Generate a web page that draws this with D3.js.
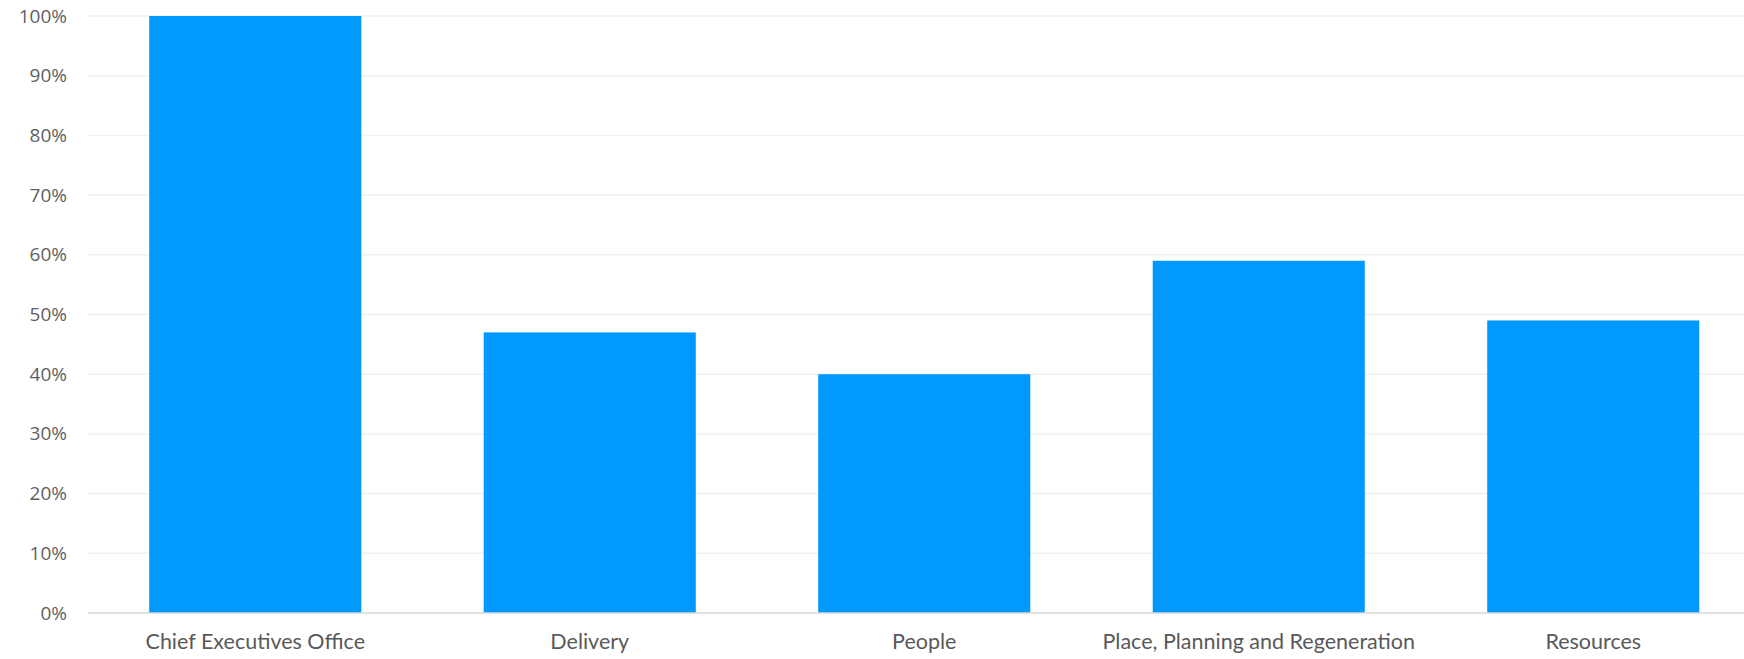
<!DOCTYPE html>
<html><head><meta charset="utf-8">
<script src="https://cdn.jsdelivr.net/npm/d3@7"></script>
<style>html,body{margin:0;padding:0;background:#fff;overflow:hidden}</style>
</head><body>
<svg id="c" width="1744" height="659"></svg>
<script>
const categories = ["Chief Executives Office","Delivery","People","Place, Planning and Regeneration","Resources"];
const values = [100, 47, 40, 59, 49];
const yTicks = [0,10,20,30,40,50,60,70,80,90,100];

const svg = d3.select("#c");
const mLeft = 88, mRight = 1760.5, mTop = 16, mBottom = 613;
const x = d3.scaleBand().domain(categories).range([mLeft, mRight]).paddingInner(0.366).paddingOuter(0.183);
const y = d3.scaleLinear().domain([0,100]).range([mBottom, mTop]);

svg.append("g").selectAll("line").data(yTicks.filter(d=>d>0)).join("line")
  .attr("x1", mLeft).attr("x2", 1744).attr("y1", d=>y(d)).attr("y2", d=>y(d))
  .attr("stroke", "#f0f0f0").attr("stroke-width", 1.5);

svg.append("g").selectAll("rect").data(values).join("rect")
  .attr("x", (d,i)=>x(categories[i])).attr("width", x.bandwidth())
  .attr("y", d=>y(d)).attr("height", d=>y(0)-y(d)).attr("fill", "#0099ff");

svg.append("line").attr("x1", mLeft).attr("x2", 1744).attr("y1", y(0)).attr("y2", y(0))
  .attr("stroke", "#d9d9d9").attr("stroke-width", 1.5);

const yAxis = d3.axisLeft(y).tickValues(yTicks).tickFormat(d=>d+"%").tickSize(0).tickPadding(0);
const ya = svg.append("g").attr("transform", `translate(${mLeft-21},0)`).call(yAxis);
ya.select(".domain").remove();
ya.selectAll("text").attr("font-family","'Open Sans', sans-serif").attr("font-size", 19).attr("fill","#5f5f5f");

const xAxis = d3.axisBottom(x).tickSize(0).tickPadding(0);
const xa = svg.append("g").attr("transform", `translate(0,${mBottom+21})`).call(xAxis);
xa.select(".domain").remove();
xa.selectAll("text").attr("font-family","Lato, sans-serif").attr("font-size", 21.5).attr("fill","#595959");
</script>
</body></html>
